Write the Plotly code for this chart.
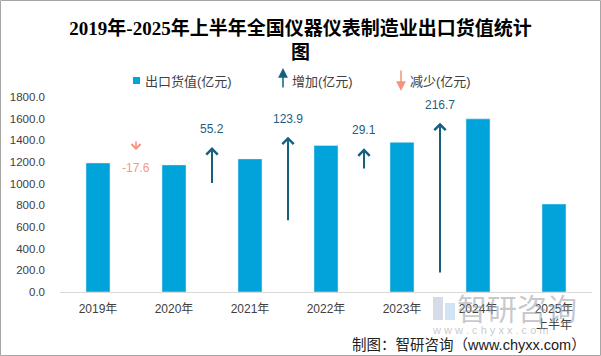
import plotly.graph_objects as go

# ---------------- data ----------------
categories = ["2019年", "2020年", "2021年", "2022年", "2023年", "2024年", "2025年<br>上半年"]
export_values = [1191.0, 1173.4, 1228.6, 1352.5, 1381.6, 1598.3, 812.3]

change_pos = [0.5, 1.5, 2.5, 3.5, 4.5]            # between category indices
changes = [-17.6, 55.2, 123.9, 29.1, 216.7]
arrow_tail = [1403, 992, 649, 1126, 166]
arrow_head = [1311, 1338, 1434, 1326, 1563]

y_ticks = [0, 200, 400, 600, 800, 1000, 1200, 1400, 1600, 1800]

# ---------------- styling ----------------
W, H = 601, 356
L, R, T, B = 60, 9, 97, 64
PW, PH = W - L - R, H - T - B

BAR = "#00A3DA"
UP = "#14607E"
DOWN = "#F4937A"
TXT = "#404040"
CJK = "Liberation Sans, Noto Sans CJK SC, sans-serif"


def px_x(px):
    return (px - L) / PW


def px_y(py):
    return (H - B - py) / PH


fig = go.Figure()
fig.add_trace(go.Bar(x=categories, y=export_values, marker_color=BAR,
                     name="出口货值(亿元)", showlegend=False, hoverinfo="skip"))

annotations = []
# change arrows
for xp, ch, tail, head in zip(change_pos, changes, arrow_tail, arrow_head):
    col = UP if ch > 0 else DOWN
    annotations.append(dict(
        x=xp, y=head, ax=xp, ay=tail, xref="x", yref="y", axref="x", ayref="y",
        text="", showarrow=True, arrowhead=4, arrowsize=1.1,
        arrowwidth=2 if ch > 0 else 1.6, arrowcolor=col))
    annotations.append(dict(
        x=xp, y=head, xref="x", yref="y", text=f"{ch:.1f}", showarrow=False,
        yshift=18 if ch > 0 else -18, yanchor="middle",
        font=dict(size=12, color="#1F5E80" if ch > 0 else "#F29A84", family=CJK)))

# custom legend
annotations += [
    dict(x=px_x(143), y=px_y(81), xref="paper", yref="paper", text="出口货值(亿元)",
         showarrow=False, xanchor="left", yanchor="middle",
         font=dict(size=13, color=TXT, family=CJK)),
    dict(x=px_x(283), y=px_y(68), xref="paper", yref="paper", text="", showarrow=True,
         ax=0, ay=21, arrowhead=2, arrowsize=1.3, arrowwidth=1.5, arrowcolor=UP),
    dict(x=px_x(290), y=px_y(81), xref="paper", yref="paper", text="增加(亿元)",
         showarrow=False, xanchor="left", yanchor="middle",
         font=dict(size=13, color=TXT, family=CJK)),
    dict(x=px_x(401), y=px_y(91), xref="paper", yref="paper", text="", showarrow=True,
         ax=0, ay=-22, arrowhead=2, arrowsize=1.3, arrowwidth=1.5, arrowcolor=DOWN),
    dict(x=px_x(408), y=px_y(81), xref="paper", yref="paper", text="减少(亿元)",
         showarrow=False, xanchor="left", yanchor="middle",
         font=dict(size=13, color=TXT, family=CJK)),
]

# watermark
annotations += [
    dict(x=px_x(455), y=px_y(307), xref="paper", yref="paper", text="智研咨询",
         showarrow=False, xanchor="left", yanchor="middle",
         font=dict(size=30, color="rgba(150,155,165,0.55)", family="Noto Sans CJK SC")),
    dict(x=px_x(430), y=px_y(330), xref="paper", yref="paper",
         text="w w w . c h y x x . c o m", showarrow=False, xanchor="left", yanchor="middle",
         font=dict(size=11, color="rgba(150,155,165,0.55)", family="Liberation Sans")),
    # source
    dict(x=px_x(588), y=px_y(345), xref="paper", yref="paper",
         text="制图：智研咨询（www.chyxx.com）", showarrow=False,
         xanchor="right", yanchor="middle",
         font=dict(size=14.5, color="#202020", family=CJK)),
]

shapes = [
    # legend square
    dict(type="rect", xref="paper", yref="paper", x0=px_x(133), x1=px_x(140),
         y0=px_y(84), y1=px_y(77), fillcolor=BAR, line=dict(width=0)),
    # watermark logo
    dict(type="rect", xref="paper", yref="paper", x0=px_x(433), x1=px_x(443),
         y0=px_y(320), y1=px_y(297), fillcolor="rgba(150,165,195,0.4)", line=dict(width=0),
         layer="below"),
    dict(type="rect", xref="paper", yref="paper", x0=px_x(445), x1=px_x(455),
         y0=px_y(320), y1=px_y(303), fillcolor="rgba(140,185,230,0.4)", line=dict(width=0),
         layer="below"),
    # outer border
    dict(type="rect", xref="paper", yref="paper", x0=px_x(0.5), x1=px_x(600.5),
         y0=px_y(355.5), y1=px_y(0.5), line=dict(color="#A6A6A6", width=1)),
]

fig.update_layout(
    width=W, height=H,
    margin=dict(l=L, r=R, t=T, b=B, pad=0),
    paper_bgcolor="white", plot_bgcolor="white",
    title=dict(text="2019年-2025年上半年全国仪器仪表制造业出口货值统计<br>图",
               x=0.5, xref="container", xanchor="center",
               y=1 - 34.5 / H, yref="container", yanchor="middle",
               font=dict(size=19, color="black",
                         family="Liberation Serif, Noto Sans CJK SC, serif", weight="bold")),
    bargap=0.684,
    showlegend=False,
    xaxis=dict(range=[-0.5, 6.5], showline=True, linecolor="#D9D9D9", linewidth=1,
               ticks="", showgrid=False, zeroline=False, ticklabelstandoff=6,
               tickfont=dict(size=12, color=TXT, family=CJK)),
    yaxis=dict(range=[0, 1800], tickvals=y_ticks, tickformat=".1f", showgrid=False,
               zeroline=False, showline=False, ticks="", ticklabelstandoff=14,
               tickfont=dict(size=11.5, color=TXT, family=CJK)),
    annotations=annotations,
    shapes=shapes,
)

fig.write_html("out.html", config={"displayModeBar": False},
               post_script="document.body.style.margin='0';")
